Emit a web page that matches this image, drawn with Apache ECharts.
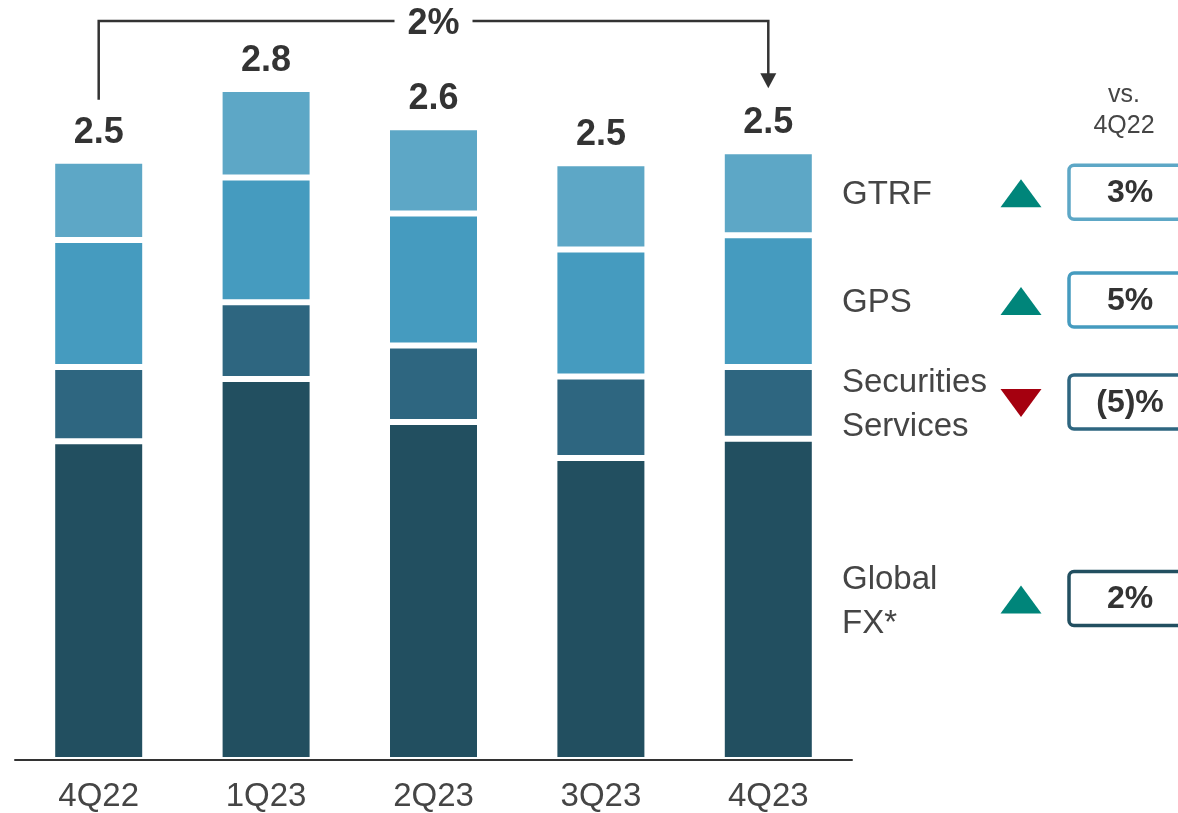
<!DOCTYPE html>
<html>
<head>
<meta charset="utf-8">
<script src="https://cdn.jsdelivr.net/npm/echarts@6/dist/echarts.min.js"></script>
<style>
  html, body { margin: 0; padding: 0; background: #ffffff; }
  #chart { width: 1178px; height: 813px; }
</style>
</head>
<body>
<div id="chart"></div>
<script>
// ---- data ----
const categories = ['4Q22', '1Q23', '2Q23', '3Q23', '4Q23'];
const globalFX = [1.33, 1.59, 1.41, 1.26, 1.34];
const securitiesServices = [0.31, 0.32, 0.32, 0.34, 0.30];
const gps = [0.53, 0.52, 0.55, 0.53, 0.55];
const gtrf = [0.33, 0.37, 0.36, 0.36, 0.35];
const totalLabels = ['2.5', '2.8', '2.6', '2.5', '2.5'];
const legendNames = ['Global\nFX*', 'Securities\nServices', 'GPS', 'GTRF'];
const changeLabels = ['2%', '(5)%', '5%', '3%'];
const changeDirections = ['up', 'down', 'up', 'up'];
const bracketLabel = '2%';
const headerLabel = 'vs.\n4Q22';

// ---- styles ----
const seriesColors = ['#224F60', '#2E6680', '#459BBF', '#5DA7C6'];
const upColor = '#00857A';
const downColor = '#A5000F';
const textDark = '#333333';
const textGray = '#454545';
const regular = "'Liberation Sans', Arial, sans-serif";

const seriesData = [globalFX, securitiesServices, gps, gtrf];
const seriesNames = ['Global FX*', 'Securities Services', 'GPS', 'GTRF'];

const chart = echarts.init(document.getElementById('chart'), null, { renderer: 'canvas' });

const series = seriesData.map((d, i) => ({
  name: seriesNames[i],
  type: 'bar',
  stack: 'total',
  data: d,
  barWidth: 93,
  itemStyle: { color: seriesColors[i], borderColor: '#ffffff', borderWidth: 3 },
  label: i === seriesData.length - 1 ? {
    show: true,
    position: 'top',
    distance: 10,
    formatter: p => totalLabels[p.dataIndex],
    fontFamily: regular,
    fontWeight: 'bold',
    fontSize: 36,
    color: textDark
  } : { show: false }
}));

chart.setOption({
  animation: false,
  backgroundColor: '#ffffff',
  grid: { left: 15, right: 326, top: 41, bottom: 53, containLabel: false },
  xAxis: {
    type: 'category',
    data: categories,
    z: 10,
    axisLine: { lineStyle: { color: '#333333', width: 2 } },
    axisTick: { show: false },
    axisLabel: { fontFamily: regular, fontSize: 33, color: textGray, margin: 20 }
  },
  yAxis: {
    type: 'value',
    min: 0,
    max: 3,
    show: false,
    splitLine: { show: false }
  },
  series: series
});

// ---- annotations computed from the chart's own scales ----
function px(idx, val) { return chart.convertToPixel({ seriesIndex: 0 }, [idx, val]); }
const last = categories.length - 1;
const totals = categories.map((c, i) => seriesData.reduce((s, d) => s + d[i], 0));
const x0 = px(0, 0)[0];
const xN = px(last, 0)[0];
const yTop0 = px(0, totals[0])[1];
const yTopN = px(last, totals[last])[1];
const bracketY = 21;
const startY = yTop0 - 61;
const tipY = yTopN - 63;
const midX = (x0 + xN) / 2;

const graphics = [];
graphics.push({
  type: 'polyline',
  shape: { points: [[x0, startY], [x0, bracketY], [xN, bracketY], [xN, tipY - 14]] },
  style: { stroke: '#333333', lineWidth: 2.5, fill: null }
});
graphics.push({
  type: 'polygon',
  shape: { points: [[xN - 8, tipY - 15], [xN + 8, tipY - 15], [xN, tipY]] },
  style: { fill: '#333333' }
});
graphics.push({
  type: 'rect',
  shape: { x: midX - 39, y: bracketY - 10, width: 78, height: 20 },
  style: { fill: '#ffffff' }
});
graphics.push({
  type: 'text',
  x: midX, y: bracketY + 3,
  style: { text: bracketLabel, fontFamily: regular, fontWeight: 'bold', fontSize: 36, fill: textDark, align: 'center', verticalAlign: 'middle' }
});

// header
graphics.push({
  type: 'text',
  x: 1124, y: 111,
  style: { text: headerLabel, fontFamily: regular, fontSize: 25, lineHeight: 31, fill: textGray, align: 'center', verticalAlign: 'middle' }
});

// legend rows aligned to last bar's segments
let cum = 0;
seriesData.forEach((d, i) => {
  const lo = cum, hi = cum + d[last];
  cum = hi;
  const cy = (px(last, lo)[1] + px(last, hi)[1]) / 2;
  graphics.push({
    type: 'text',
    x: 842, y: cy + 2,
    style: { text: legendNames[i], fontFamily: regular, fontSize: 33, lineHeight: 44, fill: textGray, align: 'left', verticalAlign: 'middle' }
  });
  const tx = 1021, hw = 20.5, hh = 14;
  const up = changeDirections[i] === 'up';
  graphics.push({
    type: 'polygon',
    shape: { points: up ? [[tx - hw, cy + hh], [tx + hw, cy + hh], [tx, cy - hh]] : [[tx - hw, cy - hh], [tx + hw, cy - hh], [tx, cy + hh]] },
    style: { fill: up ? upColor : downColor }
  });
  graphics.push({
    type: 'rect',
    shape: { x: 1069, y: cy - 28, width: 140, height: 54, r: 5 },
    style: { fill: '#ffffff', stroke: seriesColors[i], lineWidth: 3.5 }
  });
  graphics.push({
    type: 'text',
    x: 1130, y: cy,
    style: { text: changeLabels[i], fontFamily: regular, fontWeight: 'bold', fontSize: 32, fill: textDark, align: 'center', verticalAlign: 'middle' }
  });
});

chart.setOption({ graphic: graphics });
</script>
</body>
</html>
